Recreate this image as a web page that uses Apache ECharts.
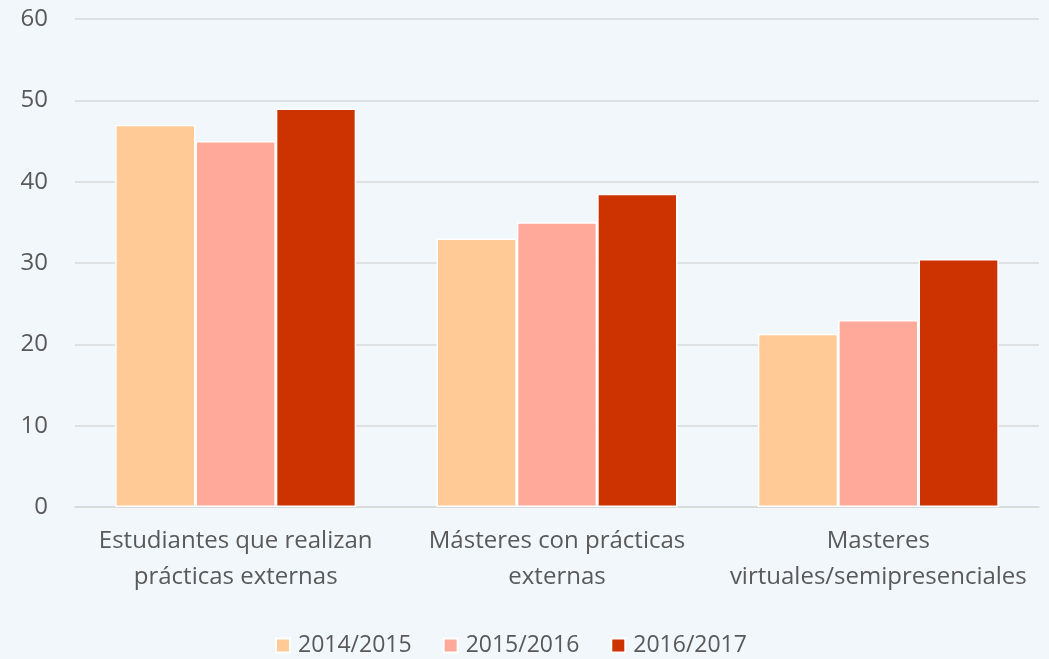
<!DOCTYPE html>
<html>
<head>
<meta charset="utf-8">
<script src="https://cdn.jsdelivr.net/npm/echarts@6/dist/echarts.min.js"></script>
<style>
  html, body { margin: 0; padding: 0; background: #F2F7FC; }
  #chart { width: 1049px; height: 659px; }
</style>
</head>
<body>
<div id="chart"></div>
<script>
// datos
var categories = ['Estudiantes que realizan\nprácticas externas', 'Másteres con prácticas\nexternas', 'Masteres\nvirtuales/semipresenciales'];
var years = ['2014/2015', '2015/2016', '2016/2017'];
var v2014 = [47, 33, 21.3];
var v2015 = [45, 35, 23];
var v2016 = [49, 38.5, 30.5];
var colors = ['#FFCA96', '#FFA99B', '#CC3300'];

var chart = echarts.init(document.getElementById('chart'));
var font = '"Open Sans", "Noto Sans", sans-serif';

function serie(name, data) {
  return {
    name: name,
    type: 'bar',
    data: data,
    barWidth: '25%',
    barGap: '0%',
    itemStyle: { borderColor: '#ffffff', borderWidth: 1.5 }
  };
}

chart.setOption({
  backgroundColor: '#F2F7FC',
  color: colors,
  textStyle: { fontFamily: font },
  grid: { left: 75, right: 10, top: 19, bottom: 152 },
  legend: {
    top: 629,
    left: 270,
    itemWidth: 14,
    itemHeight: 14,
    itemGap: 31,
    icon: 'rect',
    textStyle: { color: '#595959', fontSize: 23, fontFamily: font, padding: [0, 0, 0, 3] },
    data: years
  },
  xAxis: {
    type: 'category',
    data: categories,
    axisLine: { lineStyle: { color: '#D9D9D9', width: 1.5 } },
    axisTick: { show: false },
    axisLabel: { interval: 0, color: '#595959', fontSize: 24, lineHeight: 36, margin: 16, fontFamily: font }
  },
  yAxis: {
    type: 'value',
    min: 0,
    max: 60,
    interval: 10,
    axisLine: { show: false },
    axisTick: { show: false },
    axisLabel: { color: '#595959', fontSize: 24, margin: 27, fontFamily: font },
    splitLine: { lineStyle: { color: '#D9D9D9', width: 1.5 } }
  },
  series: [
    serie(years[0], v2014),
    serie(years[1], v2015),
    serie(years[2], v2016)
  ]
});
</script>
</body>
</html>
